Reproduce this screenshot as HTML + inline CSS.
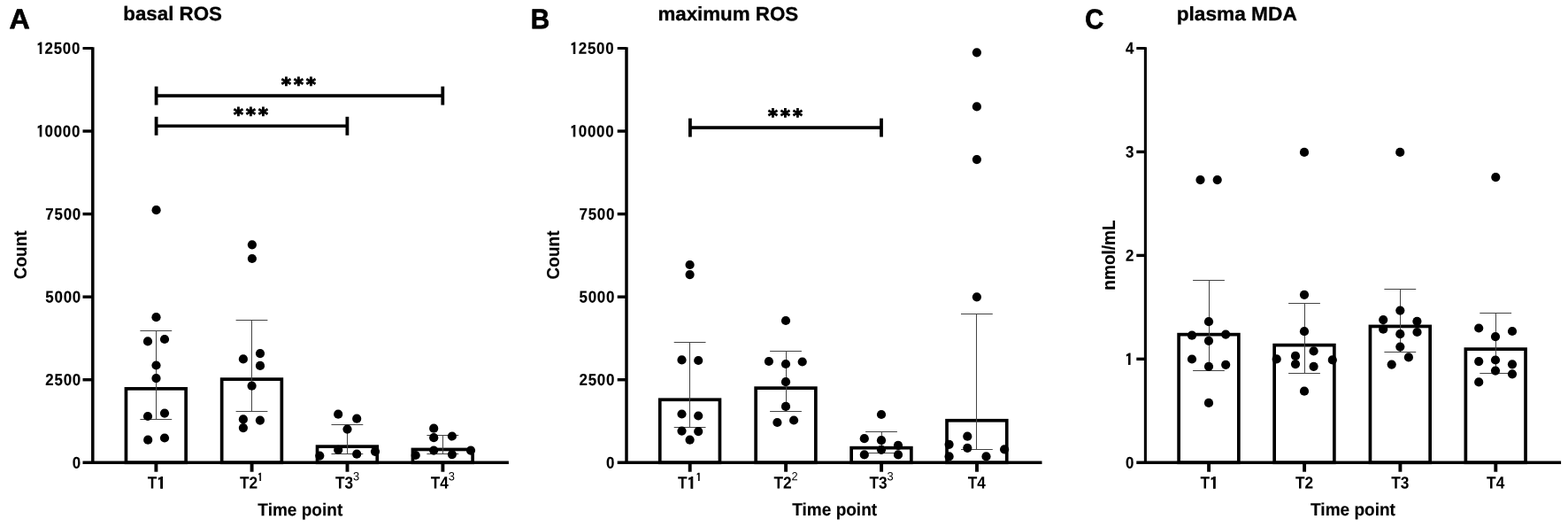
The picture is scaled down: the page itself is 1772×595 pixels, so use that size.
<!DOCTYPE html>
<html lang="en">
<head>
<meta charset="utf-8">
<title>ROS and MDA over time points</title>
<style>
html,body{margin:0;padding:0;background:#fff;}
body{width:1772px;height:595px;overflow:hidden;}
svg{display:block;font-family:"Liberation Sans",Arial,Helvetica,sans-serif;fill:#000;}
.o{font-family:IPAGothic,"Liberation Sans",sans-serif;font-weight:normal;stroke:#000;stroke-linejoin:miter;}
.star{font-family:"DejaVu Sans","Liberation Sans",sans-serif;}
</style>
</head>
<body>
<svg width="1772" height="595" viewBox="0 0 1772 595">
<rect width="1772" height="595" fill="#fff"/>
<g id="panel-A">
<line x1="104.80" y1="53.35" x2="104.80" y2="524.05" stroke="#000" stroke-width="3.5"/>
<text transform="translate(91.90 528.65) rotate(0.05) scale(0.905 1)" font-size="18.7" font-weight="bold" text-anchor="end" stroke="#000" stroke-width="0.15" letter-spacing="0.8">0</text>
<line x1="93.50" y1="428.74" x2="104.80" y2="428.74" stroke="#000" stroke-width="3.4"/>
<text transform="translate(91.90 435.09) rotate(0.05) scale(0.905 1)" font-size="18.7" font-weight="bold" text-anchor="end" stroke="#000" stroke-width="0.15" letter-spacing="0.8">2500</text>
<line x1="93.50" y1="335.18" x2="104.80" y2="335.18" stroke="#000" stroke-width="3.4"/>
<text transform="translate(91.90 341.53) rotate(0.05) scale(0.905 1)" font-size="18.7" font-weight="bold" text-anchor="end" stroke="#000" stroke-width="0.15" letter-spacing="0.8">5000</text>
<line x1="93.50" y1="241.62" x2="104.80" y2="241.62" stroke="#000" stroke-width="3.4"/>
<text transform="translate(91.90 247.97) rotate(0.05) scale(0.905 1)" font-size="18.7" font-weight="bold" text-anchor="end" stroke="#000" stroke-width="0.15" letter-spacing="0.8">7500</text>
<line x1="93.50" y1="148.06" x2="104.80" y2="148.06" stroke="#000" stroke-width="3.4"/>
<text transform="translate(91.10 154.41) rotate(0.05) scale(0.905 1)" font-size="18.7" font-weight="bold" text-anchor="end" stroke="#000" stroke-width="0.15" letter-spacing="0.8"><tspan class="o" font-size="18.01" dx="0" dy="0.75" stroke-width="0.85" textLength="11.97" lengthAdjust="spacingAndGlyphs">1</tspan><tspan dx="-1" dy="-0.75">0000</tspan></text>
<line x1="93.50" y1="54.50" x2="104.80" y2="54.50" stroke="#000" stroke-width="3.0"/>
<text transform="translate(91.10 60.85) rotate(0.05) scale(0.905 1)" font-size="18.7" font-weight="bold" text-anchor="end" stroke="#000" stroke-width="0.15" letter-spacing="0.8"><tspan class="o" font-size="18.01" dx="0" dy="0.75" stroke-width="0.85" textLength="11.97" lengthAdjust="spacingAndGlyphs">1</tspan><tspan dx="-1" dy="-0.75">2500</tspan></text>
<rect x="142.45" y="438.85" width="67.70" height="83.45" fill="#fff" stroke="#000" stroke-width="3.7"/>
<rect x="250.65" y="428.15" width="67.70" height="94.15" fill="#fff" stroke="#000" stroke-width="3.7"/>
<rect x="358.55" y="504.15" width="67.70" height="18.15" fill="#fff" stroke="#000" stroke-width="3.7"/>
<rect x="466.45" y="507.45" width="67.70" height="14.85" fill="#fff" stroke="#000" stroke-width="3.7"/>
<line x1="93.50" y1="522.30" x2="574.90" y2="522.30" stroke="#000" stroke-width="3.5"/>
<line x1="176.40" y1="522.30" x2="176.40" y2="532.70" stroke="#000" stroke-width="3.9"/>
<line x1="176.50" y1="373.40" x2="176.50" y2="473.80" stroke="#444" stroke-width="1.05"/>
<line x1="158.40" y1="373.50" x2="194.20" y2="373.50" stroke="#444" stroke-width="1.05"/>
<line x1="158.40" y1="473.50" x2="194.20" y2="473.50" stroke="#444" stroke-width="1.05"/>
<circle cx="176.60" cy="237.20" r="5.1"/>
<circle cx="176.50" cy="358.20" r="5.1"/>
<circle cx="167.00" cy="385.40" r="5.1"/>
<circle cx="186.00" cy="383.00" r="5.1"/>
<circle cx="176.50" cy="412.50" r="5.1"/>
<circle cx="176.50" cy="427.10" r="5.1"/>
<circle cx="167.00" cy="470.00" r="5.1"/>
<circle cx="186.00" cy="466.60" r="5.1"/>
<circle cx="167.20" cy="496.70" r="5.1"/>
<circle cx="186.00" cy="494.50" r="5.1"/>
<text transform="translate(166.80 551.60) rotate(0.05) scale(0.905 1)" font-size="19.1" font-weight="bold" letter-spacing="0">T<tspan class="o" font-size="18.39" dx="-0.6" dy="0.75" stroke-width="0.85" textLength="12.22" lengthAdjust="spacingAndGlyphs">1</tspan></text>
<line x1="284.60" y1="522.30" x2="284.60" y2="532.70" stroke="#000" stroke-width="3.9"/>
<line x1="284.50" y1="361.70" x2="284.50" y2="464.40" stroke="#444" stroke-width="1.05"/>
<line x1="266.60" y1="361.50" x2="302.40" y2="361.50" stroke="#444" stroke-width="1.05"/>
<line x1="266.60" y1="464.50" x2="302.40" y2="464.50" stroke="#444" stroke-width="1.05"/>
<circle cx="284.90" cy="276.30" r="5.1"/>
<circle cx="284.90" cy="292.00" r="5.1"/>
<circle cx="274.90" cy="405.40" r="5.1"/>
<circle cx="294.00" cy="399.10" r="5.1"/>
<circle cx="294.00" cy="412.90" r="5.1"/>
<circle cx="284.60" cy="435.70" r="5.1"/>
<circle cx="274.90" cy="473.40" r="5.1"/>
<circle cx="293.90" cy="474.60" r="5.1"/>
<circle cx="274.90" cy="483.10" r="5.1"/>
<text transform="translate(271.00 551.60) rotate(0.05) scale(0.905 1)" font-size="19.1" font-weight="bold" letter-spacing="0">T2</text>
<text transform="translate(291.10 543.30) rotate(0.05)" font-size="12.3" font-weight="normal" stroke="#000" stroke-width="0.6" class="o">1</text>
<line x1="392.50" y1="522.30" x2="392.50" y2="532.70" stroke="#000" stroke-width="3.9"/>
<line x1="392.50" y1="479.60" x2="392.50" y2="512.90" stroke="#444" stroke-width="1.05"/>
<line x1="374.50" y1="479.50" x2="410.30" y2="479.50" stroke="#444" stroke-width="1.05"/>
<line x1="374.50" y1="512.50" x2="410.30" y2="512.50" stroke="#444" stroke-width="1.05"/>
<circle cx="382.20" cy="467.70" r="5.1"/>
<circle cx="403.20" cy="472.70" r="5.1"/>
<circle cx="392.50" cy="484.60" r="5.1"/>
<circle cx="382.20" cy="507.90" r="5.1"/>
<circle cx="403.20" cy="512.70" r="5.1"/>
<circle cx="361.30" cy="514.60" r="5.1"/>
<circle cx="424.00" cy="509.80" r="5.1"/>
<text transform="translate(378.90 551.60) rotate(0.05) scale(0.905 1)" font-size="19.1" font-weight="bold" letter-spacing="0">T3</text>
<text transform="translate(398.90 542.35) rotate(0.05) scale(0.966 1)" font-size="13.3" font-weight="normal">3</text>
<line x1="500.40" y1="522.30" x2="500.40" y2="532.70" stroke="#000" stroke-width="3.9"/>
<line x1="500.50" y1="491.30" x2="500.50" y2="512.50" stroke="#444" stroke-width="1.05"/>
<line x1="482.40" y1="491.50" x2="518.20" y2="491.50" stroke="#444" stroke-width="1.05"/>
<line x1="482.40" y1="512.50" x2="518.20" y2="512.50" stroke="#444" stroke-width="1.05"/>
<circle cx="490.20" cy="483.70" r="5.1"/>
<circle cx="490.20" cy="494.20" r="5.1"/>
<circle cx="510.90" cy="492.50" r="5.1"/>
<circle cx="490.20" cy="508.60" r="5.1"/>
<circle cx="510.90" cy="513.10" r="5.1"/>
<circle cx="469.70" cy="514.00" r="5.1"/>
<circle cx="532.00" cy="508.60" r="5.1"/>
<text transform="translate(486.80 551.60) rotate(0.05) scale(0.905 1)" font-size="19.1" font-weight="bold" letter-spacing="0">T4</text>
<text transform="translate(506.80 542.35) rotate(0.05) scale(0.966 1)" font-size="13.3" font-weight="normal">3</text>
<line x1="176.60" y1="108.10" x2="500.30" y2="108.10" stroke="#000" stroke-width="3.6"/>
<line x1="176.60" y1="97.60" x2="176.60" y2="118.60" stroke="#000" stroke-width="3.8"/>
<line x1="500.30" y1="97.60" x2="500.30" y2="118.60" stroke="#000" stroke-width="3.8"/>
<text transform="translate(339.05 102.50) rotate(0.05)" font-size="20.7" font-weight="bold" text-anchor="middle" stroke="#000" stroke-width="1.1" class="star" letter-spacing="3.2">***</text>
<line x1="176.60" y1="142.30" x2="392.40" y2="142.30" stroke="#000" stroke-width="3.6"/>
<line x1="176.60" y1="131.80" x2="176.60" y2="152.80" stroke="#000" stroke-width="3.8"/>
<line x1="392.40" y1="131.80" x2="392.40" y2="152.80" stroke="#000" stroke-width="3.8"/>
<text transform="translate(285.10 136.50) rotate(0.05)" font-size="20.7" font-weight="bold" text-anchor="middle" stroke="#000" stroke-width="1.1" class="star" letter-spacing="3.2">***</text>
<text transform="translate(339.30 582.20) rotate(0.05) scale(0.952 1)" font-size="20.0" font-weight="bold" text-anchor="middle" stroke="#000" stroke-width="0.15">Time point</text>
<text transform="translate(29.60 287.80) rotate(-90) scale(0.952 1)" font-size="20.0" font-weight="bold" text-anchor="middle" stroke="#000" stroke-width="0.15">Count</text>
<text transform="translate(139.30 22.80) rotate(0.05) scale(1.015 1)" font-size="22.0" font-weight="bold" stroke="#000" stroke-width="0.3">basal ROS</text>
<text transform="translate(10.40 32.20) rotate(0.05) scale(1.02 1)" font-size="31.5" font-weight="bold" stroke="#000" stroke-width="0.7">A</text>
</g>
<g id="panel-B">
<line x1="708.00" y1="53.35" x2="708.00" y2="524.05" stroke="#000" stroke-width="3.5"/>
<text transform="translate(695.10 528.65) rotate(0.05) scale(0.905 1)" font-size="18.7" font-weight="bold" text-anchor="end" stroke="#000" stroke-width="0.15" letter-spacing="0.8">0</text>
<line x1="697.70" y1="428.74" x2="708.00" y2="428.74" stroke="#000" stroke-width="3.4"/>
<text transform="translate(695.10 435.09) rotate(0.05) scale(0.905 1)" font-size="18.7" font-weight="bold" text-anchor="end" stroke="#000" stroke-width="0.15" letter-spacing="0.8">2500</text>
<line x1="697.70" y1="335.18" x2="708.00" y2="335.18" stroke="#000" stroke-width="3.4"/>
<text transform="translate(695.10 341.53) rotate(0.05) scale(0.905 1)" font-size="18.7" font-weight="bold" text-anchor="end" stroke="#000" stroke-width="0.15" letter-spacing="0.8">5000</text>
<line x1="697.70" y1="241.62" x2="708.00" y2="241.62" stroke="#000" stroke-width="3.4"/>
<text transform="translate(695.10 247.97) rotate(0.05) scale(0.905 1)" font-size="18.7" font-weight="bold" text-anchor="end" stroke="#000" stroke-width="0.15" letter-spacing="0.8">7500</text>
<line x1="697.70" y1="148.06" x2="708.00" y2="148.06" stroke="#000" stroke-width="3.4"/>
<text transform="translate(694.30 154.41) rotate(0.05) scale(0.905 1)" font-size="18.7" font-weight="bold" text-anchor="end" stroke="#000" stroke-width="0.15" letter-spacing="0.8"><tspan class="o" font-size="18.01" dx="0" dy="0.75" stroke-width="0.85" textLength="11.97" lengthAdjust="spacingAndGlyphs">1</tspan><tspan dx="-1" dy="-0.75">0000</tspan></text>
<line x1="697.70" y1="54.50" x2="708.00" y2="54.50" stroke="#000" stroke-width="3.0"/>
<text transform="translate(694.30 60.85) rotate(0.05) scale(0.905 1)" font-size="18.7" font-weight="bold" text-anchor="end" stroke="#000" stroke-width="0.15" letter-spacing="0.8"><tspan class="o" font-size="18.01" dx="0" dy="0.75" stroke-width="0.85" textLength="11.97" lengthAdjust="spacingAndGlyphs">1</tspan><tspan dx="-1" dy="-0.75">2500</tspan></text>
<rect x="745.75" y="451.25" width="67.70" height="71.05" fill="#fff" stroke="#000" stroke-width="3.7"/>
<rect x="854.15" y="438.15" width="67.70" height="84.15" fill="#fff" stroke="#000" stroke-width="3.7"/>
<rect x="962.15" y="505.65" width="67.70" height="16.65" fill="#fff" stroke="#000" stroke-width="3.7"/>
<rect x="1070.05" y="474.75" width="67.70" height="47.55" fill="#fff" stroke="#000" stroke-width="3.7"/>
<line x1="697.70" y1="522.30" x2="1177.50" y2="522.30" stroke="#000" stroke-width="3.5"/>
<line x1="779.70" y1="522.30" x2="779.70" y2="532.70" stroke="#000" stroke-width="3.9"/>
<line x1="779.50" y1="386.80" x2="779.50" y2="482.60" stroke="#444" stroke-width="1.05"/>
<line x1="761.70" y1="386.50" x2="797.50" y2="386.50" stroke="#444" stroke-width="1.05"/>
<line x1="761.70" y1="482.50" x2="797.50" y2="482.50" stroke="#444" stroke-width="1.05"/>
<circle cx="779.60" cy="299.00" r="5.1"/>
<circle cx="779.60" cy="310.10" r="5.1"/>
<circle cx="770.50" cy="406.40" r="5.1"/>
<circle cx="789.20" cy="407.00" r="5.1"/>
<circle cx="770.50" cy="467.50" r="5.1"/>
<circle cx="789.20" cy="469.50" r="5.1"/>
<circle cx="770.50" cy="486.60" r="5.1"/>
<circle cx="789.20" cy="487.10" r="5.1"/>
<circle cx="779.60" cy="496.70" r="5.1"/>
<text transform="translate(766.10 551.60) rotate(0.05) scale(0.905 1)" font-size="19.1" font-weight="bold" letter-spacing="0">T<tspan class="o" font-size="18.39" dx="-0.6" dy="0.75" stroke-width="0.85" textLength="12.22" lengthAdjust="spacingAndGlyphs">1</tspan></text>
<text transform="translate(786.40 543.30) rotate(0.05)" font-size="12.3" font-weight="normal" stroke="#000" stroke-width="0.6" class="o">1</text>
<line x1="888.10" y1="522.30" x2="888.10" y2="532.70" stroke="#000" stroke-width="3.9"/>
<line x1="888.50" y1="396.40" x2="888.50" y2="464.00" stroke="#444" stroke-width="1.05"/>
<line x1="870.10" y1="396.50" x2="905.90" y2="396.50" stroke="#444" stroke-width="1.05"/>
<line x1="870.10" y1="464.50" x2="905.90" y2="464.50" stroke="#444" stroke-width="1.05"/>
<circle cx="888.00" cy="362.00" r="5.1"/>
<circle cx="868.90" cy="408.00" r="5.1"/>
<circle cx="888.00" cy="411.00" r="5.1"/>
<circle cx="906.70" cy="408.50" r="5.1"/>
<circle cx="888.00" cy="431.20" r="5.1"/>
<circle cx="888.00" cy="458.90" r="5.1"/>
<circle cx="878.40" cy="477.00" r="5.1"/>
<circle cx="897.10" cy="474.50" r="5.1"/>
<text transform="translate(874.50 551.60) rotate(0.05) scale(0.905 1)" font-size="19.1" font-weight="bold" letter-spacing="0">T2</text>
<text transform="translate(894.50 542.35) rotate(0.05) scale(0.966 1)" font-size="13.3" font-weight="normal">2</text>
<line x1="996.10" y1="522.30" x2="996.10" y2="532.70" stroke="#000" stroke-width="3.9"/>
<line x1="996.50" y1="487.60" x2="996.50" y2="511.80" stroke="#444" stroke-width="1.05"/>
<line x1="978.10" y1="487.50" x2="1013.90" y2="487.50" stroke="#444" stroke-width="1.05"/>
<line x1="978.10" y1="511.50" x2="1013.90" y2="511.50" stroke="#444" stroke-width="1.05"/>
<circle cx="996.00" cy="468.00" r="5.1"/>
<circle cx="976.80" cy="495.20" r="5.1"/>
<circle cx="996.00" cy="497.20" r="5.1"/>
<circle cx="1015.00" cy="502.80" r="5.1"/>
<circle cx="976.80" cy="513.40" r="5.1"/>
<circle cx="996.00" cy="507.80" r="5.1"/>
<circle cx="1015.00" cy="513.40" r="5.1"/>
<text transform="translate(982.50 551.60) rotate(0.05) scale(0.905 1)" font-size="19.1" font-weight="bold" letter-spacing="0">T3</text>
<text transform="translate(1002.50 542.35) rotate(0.05) scale(0.966 1)" font-size="13.3" font-weight="normal">3</text>
<line x1="1104.00" y1="522.30" x2="1104.00" y2="532.70" stroke="#000" stroke-width="3.9"/>
<line x1="1103.50" y1="354.00" x2="1103.50" y2="507.80" stroke="#444" stroke-width="1.05"/>
<line x1="1086.00" y1="354.50" x2="1121.80" y2="354.50" stroke="#444" stroke-width="1.05"/>
<line x1="1086.00" y1="507.50" x2="1121.80" y2="507.50" stroke="#444" stroke-width="1.05"/>
<circle cx="1103.90" cy="59.30" r="5.1"/>
<circle cx="1103.90" cy="120.40" r="5.1"/>
<circle cx="1103.90" cy="180.10" r="5.1"/>
<circle cx="1103.90" cy="335.30" r="5.1"/>
<circle cx="1072.60" cy="501.80" r="5.1"/>
<circle cx="1093.30" cy="492.70" r="5.1"/>
<circle cx="1093.30" cy="505.80" r="5.1"/>
<circle cx="1072.60" cy="515.40" r="5.1"/>
<circle cx="1114.50" cy="515.40" r="5.1"/>
<circle cx="1135.10" cy="507.30" r="5.1"/>
<text transform="translate(1093.80 551.60) rotate(0.05) scale(0.905 1)" font-size="19.1" font-weight="bold" letter-spacing="0">T4</text>
<line x1="779.90" y1="144.10" x2="996.00" y2="144.10" stroke="#000" stroke-width="3.6"/>
<line x1="779.90" y1="133.60" x2="779.90" y2="154.60" stroke="#000" stroke-width="3.8"/>
<line x1="996.00" y1="133.60" x2="996.00" y2="154.60" stroke="#000" stroke-width="3.8"/>
<text transform="translate(888.95 138.10) rotate(0.05)" font-size="20.7" font-weight="bold" text-anchor="middle" stroke="#000" stroke-width="1.1" class="star" letter-spacing="3.2">***</text>
<text transform="translate(943.20 582.00) rotate(0.05) scale(0.952 1)" font-size="20.0" font-weight="bold" text-anchor="middle" stroke="#000" stroke-width="0.15">Time point</text>
<text transform="translate(632.40 288.00) rotate(-90) scale(0.952 1)" font-size="20.0" font-weight="bold" text-anchor="middle" stroke="#000" stroke-width="0.15">Count</text>
<text transform="translate(743.40 23.00) rotate(0.05) scale(1.015 1)" font-size="22.0" font-weight="bold" stroke="#000" stroke-width="0.3">maximum ROS</text>
<text transform="translate(599.80 32.20) rotate(0.05) scale(0.94 1)" font-size="31.5" font-weight="bold" stroke="#000" stroke-width="0.7">B</text>
</g>
<g id="panel-C">
<line x1="1294.40" y1="53.35" x2="1294.40" y2="524.05" stroke="#000" stroke-width="3.1"/>
<text transform="translate(1282.10 528.65) rotate(0.05) scale(0.905 1)" font-size="18.7" font-weight="bold" text-anchor="end" stroke="#000" stroke-width="0.15" letter-spacing="0.8">0</text>
<line x1="1284.30" y1="405.35" x2="1294.40" y2="405.35" stroke="#000" stroke-width="3.4"/>
<text transform="translate(1281.90 411.70) rotate(0.05) scale(0.905 1)" font-size="18.7" font-weight="bold" text-anchor="end" stroke="#000" stroke-width="0.15" letter-spacing="0.8"><tspan class="o" font-size="18.01" dx="0" dy="0.75" stroke-width="0.85" textLength="11.97" lengthAdjust="spacingAndGlyphs">1</tspan></text>
<line x1="1284.30" y1="288.40" x2="1294.40" y2="288.40" stroke="#000" stroke-width="3.4"/>
<text transform="translate(1282.10 294.75) rotate(0.05) scale(0.905 1)" font-size="18.7" font-weight="bold" text-anchor="end" stroke="#000" stroke-width="0.15" letter-spacing="0.8">2</text>
<line x1="1284.30" y1="171.45" x2="1294.40" y2="171.45" stroke="#000" stroke-width="3.4"/>
<text transform="translate(1282.10 177.80) rotate(0.05) scale(0.905 1)" font-size="18.7" font-weight="bold" text-anchor="end" stroke="#000" stroke-width="0.15" letter-spacing="0.8">3</text>
<line x1="1284.30" y1="54.50" x2="1294.40" y2="54.50" stroke="#000" stroke-width="3.0"/>
<text transform="translate(1282.10 60.85) rotate(0.05) scale(0.905 1)" font-size="18.7" font-weight="bold" text-anchor="end" stroke="#000" stroke-width="0.15" letter-spacing="0.8">4</text>
<rect x="1332.15" y="377.65" width="67.70" height="144.65" fill="#fff" stroke="#000" stroke-width="3.7"/>
<rect x="1440.15" y="389.65" width="67.70" height="132.65" fill="#fff" stroke="#000" stroke-width="3.7"/>
<rect x="1548.45" y="368.45" width="67.70" height="153.85" fill="#fff" stroke="#000" stroke-width="3.7"/>
<rect x="1656.35" y="394.15" width="67.70" height="128.15" fill="#fff" stroke="#000" stroke-width="3.7"/>
<line x1="1284.30" y1="522.30" x2="1764.10" y2="522.30" stroke="#000" stroke-width="3.5"/>
<line x1="1366.10" y1="522.30" x2="1366.10" y2="532.70" stroke="#000" stroke-width="3.9"/>
<line x1="1366.50" y1="316.70" x2="1366.50" y2="418.80" stroke="#444" stroke-width="1.05"/>
<line x1="1348.10" y1="316.50" x2="1383.90" y2="316.50" stroke="#444" stroke-width="1.05"/>
<line x1="1348.10" y1="418.50" x2="1383.90" y2="418.50" stroke="#444" stroke-width="1.05"/>
<circle cx="1356.50" cy="203.10" r="5.1"/>
<circle cx="1375.70" cy="203.10" r="5.1"/>
<circle cx="1366.00" cy="363.20" r="5.1"/>
<circle cx="1347.00" cy="378.70" r="5.1"/>
<circle cx="1385.20" cy="377.60" r="5.1"/>
<circle cx="1366.00" cy="384.80" r="5.1"/>
<circle cx="1347.00" cy="405.50" r="5.1"/>
<circle cx="1366.00" cy="413.80" r="5.1"/>
<circle cx="1385.20" cy="411.80" r="5.1"/>
<circle cx="1366.00" cy="454.90" r="5.1"/>
<text transform="translate(1356.50 551.60) rotate(0.05) scale(0.905 1)" font-size="19.1" font-weight="bold" letter-spacing="0">T<tspan class="o" font-size="18.39" dx="-0.6" dy="0.75" stroke-width="0.85" textLength="12.22" lengthAdjust="spacingAndGlyphs">1</tspan></text>
<line x1="1474.10" y1="522.30" x2="1474.10" y2="532.70" stroke="#000" stroke-width="3.9"/>
<line x1="1474.50" y1="342.90" x2="1474.50" y2="421.60" stroke="#444" stroke-width="1.05"/>
<line x1="1456.10" y1="342.50" x2="1491.90" y2="342.50" stroke="#444" stroke-width="1.05"/>
<line x1="1456.10" y1="421.50" x2="1491.90" y2="421.50" stroke="#444" stroke-width="1.05"/>
<circle cx="1474.00" cy="171.90" r="5.1"/>
<circle cx="1474.00" cy="332.80" r="5.1"/>
<circle cx="1474.00" cy="374.20" r="5.1"/>
<circle cx="1442.70" cy="405.40" r="5.1"/>
<circle cx="1464.00" cy="401.90" r="5.1"/>
<circle cx="1484.60" cy="396.40" r="5.1"/>
<circle cx="1505.80" cy="406.40" r="5.1"/>
<circle cx="1464.00" cy="411.10" r="5.1"/>
<circle cx="1484.60" cy="413.80" r="5.1"/>
<circle cx="1474.00" cy="441.70" r="5.1"/>
<text transform="translate(1463.90 551.60) rotate(0.05) scale(0.905 1)" font-size="19.1" font-weight="bold" letter-spacing="0">T2</text>
<line x1="1582.40" y1="522.30" x2="1582.40" y2="532.70" stroke="#000" stroke-width="3.9"/>
<line x1="1582.50" y1="326.30" x2="1582.50" y2="397.90" stroke="#444" stroke-width="1.05"/>
<line x1="1564.40" y1="326.50" x2="1600.20" y2="326.50" stroke="#444" stroke-width="1.05"/>
<line x1="1564.40" y1="397.50" x2="1600.20" y2="397.50" stroke="#444" stroke-width="1.05"/>
<circle cx="1582.20" cy="171.90" r="5.1"/>
<circle cx="1582.30" cy="350.60" r="5.1"/>
<circle cx="1563.20" cy="361.10" r="5.1"/>
<circle cx="1601.40" cy="362.80" r="5.1"/>
<circle cx="1563.20" cy="371.70" r="5.1"/>
<circle cx="1582.30" cy="377.20" r="5.1"/>
<circle cx="1601.50" cy="375.00" r="5.1"/>
<circle cx="1582.30" cy="391.60" r="5.1"/>
<circle cx="1591.90" cy="403.40" r="5.1"/>
<circle cx="1572.70" cy="411.60" r="5.1"/>
<text transform="translate(1572.20 551.60) rotate(0.05) scale(0.905 1)" font-size="19.1" font-weight="bold" letter-spacing="0">T3</text>
<line x1="1690.30" y1="522.30" x2="1690.30" y2="532.70" stroke="#000" stroke-width="3.9"/>
<line x1="1690.50" y1="353.20" x2="1690.50" y2="421.60" stroke="#444" stroke-width="1.05"/>
<line x1="1672.30" y1="353.50" x2="1708.10" y2="353.50" stroke="#444" stroke-width="1.05"/>
<line x1="1672.30" y1="421.50" x2="1708.10" y2="421.50" stroke="#444" stroke-width="1.05"/>
<circle cx="1690.30" cy="200.10" r="5.1"/>
<circle cx="1671.20" cy="370.50" r="5.1"/>
<circle cx="1709.00" cy="374.00" r="5.1"/>
<circle cx="1690.00" cy="380.10" r="5.1"/>
<circle cx="1671.20" cy="408.10" r="5.1"/>
<circle cx="1690.00" cy="406.50" r="5.1"/>
<circle cx="1709.00" cy="411.30" r="5.1"/>
<circle cx="1690.00" cy="418.60" r="5.1"/>
<circle cx="1709.00" cy="422.30" r="5.1"/>
<circle cx="1671.20" cy="431.40" r="5.1"/>
<text transform="translate(1680.10 551.60) rotate(0.05) scale(0.905 1)" font-size="19.1" font-weight="bold" letter-spacing="0">T4</text>
<text transform="translate(1529.00 582.00) rotate(0.05) scale(0.952 1)" font-size="20.0" font-weight="bold" text-anchor="middle" stroke="#000" stroke-width="0.15">Time point</text>
<text transform="translate(1259.60 288.00) rotate(-90) scale(0.952 1)" font-size="20.0" font-weight="bold" text-anchor="middle" stroke="#000" stroke-width="0.15">nmol/mL</text>
<text transform="translate(1329.70 23.00) rotate(0.05) scale(1.03124 1)" font-size="22.0" font-weight="bold" stroke="#000" stroke-width="0.3">plasma MDA</text>
<text transform="translate(1226.20 32.20) rotate(0.05) scale(0.926 1)" font-size="31.5" font-weight="bold" stroke="#000" stroke-width="0.7">C</text>
</g>
</svg>
</body>
</html>
